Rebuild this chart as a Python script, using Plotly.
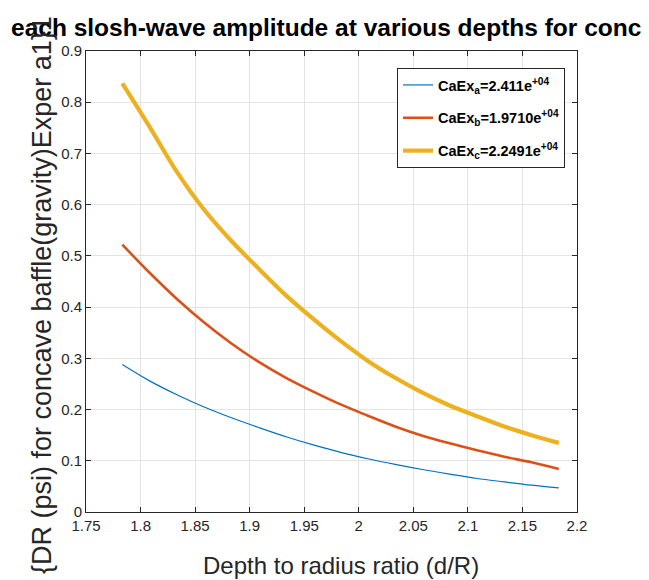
import plotly.graph_objects as go

# Data
x_vals = [1.7833, 1.8083, 1.8333, 1.8583, 1.8833, 1.9083, 1.9333, 1.9583, 1.9833,
          2.0083, 2.0333, 2.0583, 2.0833, 2.1083, 2.1333, 2.1583, 2.1833]
amp_a = [0.288, 0.256, 0.229, 0.205, 0.184, 0.165, 0.147, 0.131, 0.1165,
         0.104, 0.093, 0.083, 0.074, 0.0654, 0.0587, 0.0523, 0.047]
amp_b = [0.522, 0.467, 0.416, 0.370, 0.329, 0.293, 0.262, 0.235, 0.210,
         0.188, 0.167, 0.149, 0.134, 0.1205, 0.108, 0.097, 0.084]
amp_c = [0.837, 0.752, 0.664, 0.590, 0.529, 0.475, 0.423, 0.377, 0.334,
         0.295, 0.262, 0.233, 0.208, 0.187, 0.167, 0.150, 0.135]

series_names = [
    "CaEx<sub>a</sub>=2.411e<sup>+04</sup>",
    "CaEx<sub>b</sub>=1.9710e<sup>+04</sup>",
    "CaEx<sub>c</sub>=2.2491e<sup>+04</sup>",
]
series_colors = ["#0072BD", "#D95319", "#EDB120"]
series_widths = [1.2, 2.6, 4.2]

x_ticks = [1.75, 1.8, 1.85, 1.9, 1.95, 2.0, 2.05, 2.1, 2.15, 2.2]
x_tick_text = ["1.75", "1.8", "1.85", "1.9", "1.95", "2", "2.05", "2.1", "2.15", "2.2"]
y_ticks = [0, 0.1, 0.2, 0.3, 0.4, 0.5, 0.6, 0.7, 0.8, 0.9]
y_tick_text = ["0", "0.1", "0.2", "0.3", "0.4", "0.5", "0.6", "0.7", "0.8", "0.9"]

title_text = "each slosh-wave amplitude at various depths for concave baffle"
x_title = "Depth to radius ratio (d/R)"
y_title = "{DR (psi) for concave baffle(gravity)Exper a1}1"

FONT = "Liberation Sans, Arial, sans-serif"
AX = "#262626"

fig = go.Figure()
for i, (ys, name, col, w) in enumerate(zip([amp_a, amp_b, amp_c], series_names,
                                            series_colors, series_widths)):
    fig.add_trace(go.Scatter(
        x=x_vals, y=ys, mode="lines", name=name, legendgroup="g%d" % i,
        line=dict(color=col, width=w, shape="spline", smoothing=1.0),
    ))

# page has an 8px body margin; figure is sized to fill the rest of the window
OFF = 8
W, H = 649 - OFF, 580 - OFF
L, R, T, B = 86 - OFF, 72, 51 - OFF, 68
pw, ph = W - L - R, H - T - B


def px_x(px):
    return (px - OFF - L) / pw


def px_y(py):
    return (H - B - (py - OFF)) / ph


axis_common = dict(
    showline=True, linecolor=AX, linewidth=1, mirror="ticks",
    ticks="inside", ticklen=5, tickcolor=AX, tickwidth=1,
    showgrid=True, gridcolor="#e3e3e3", gridwidth=1,
    zeroline=False,
    tickfont=dict(family=FONT, size=15, color=AX),
)

fig.update_layout(
    width=W, height=H,
    margin=dict(l=L, r=R, t=T, b=B, autoexpand=False),
    paper_bgcolor="white", plot_bgcolor="white",
    font=dict(family=FONT, color=AX),
    xaxis=dict(range=[1.75, 2.2], tickvals=x_ticks, ticktext=x_tick_text, **axis_common),
    yaxis=dict(range=[0, 0.9], tickvals=y_ticks, ticktext=y_tick_text, **axis_common),
    legend=dict(
        x=px_x(397), y=px_y(68), xanchor="left", yanchor="top",
        bgcolor="white", bordercolor=AX, borderwidth=1,
        tracegroupgap=11, itemwidth=30,
        font=dict(family=FONT, size=14.5, color="black", weight="bold"),
    ),
    showlegend=True,
)

fig.add_annotation(
    text="<b>" + title_text + "</b>", xref="paper", yref="paper",
    x=px_x(9), y=px_y(27), xanchor="left", yanchor="middle",
    showarrow=False, font=dict(family=FONT, size=24.5, color="black"),
)
fig.add_annotation(
    text=x_title, xref="paper", yref="paper",
    x=px_x(341), y=px_y(565), xanchor="center", yanchor="middle",
    showarrow=False, font=dict(family=FONT, size=24, color=AX),
)
fig.add_annotation(
    text=y_title, xref="paper", yref="paper", textangle=-90,
    x=px_x(42), y=px_y(576), xanchor="center", yanchor="bottom",
    showarrow=False, font=dict(family=FONT, size=27, color=AX),
)

fig.write_html("out.html")
